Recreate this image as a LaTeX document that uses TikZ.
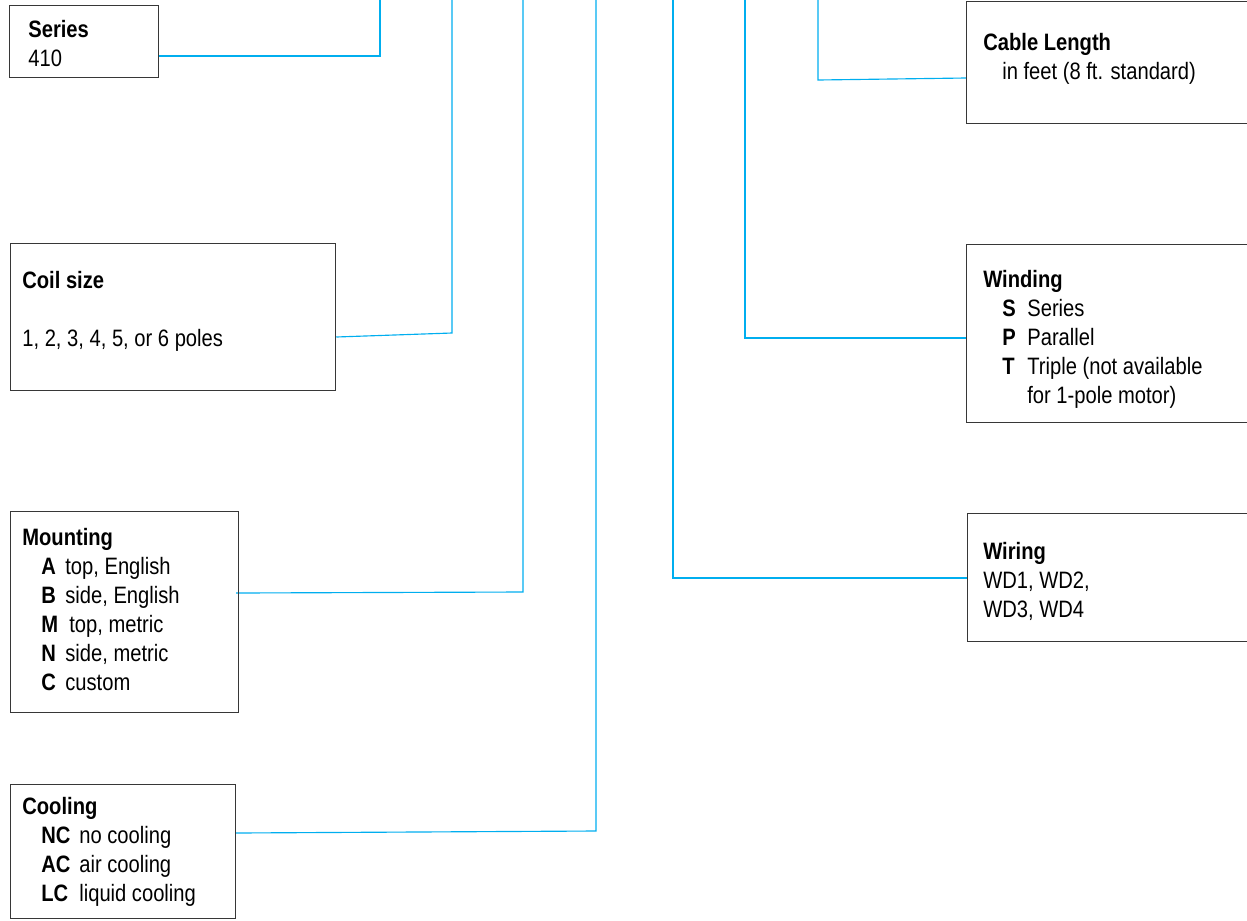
\documentclass[tikz,border=0pt]{standalone}
\usepackage{fontspec}
\setmainfont{Liberation Sans}[FakeStretch=0.85]
\usepackage{xcolor}
\usetikzlibrary{calc,backgrounds}
\pgfdeclarelayer{edgelayer}
\pgfdeclarelayer{nodelayer}
\pgfsetlayers{background,edgelayer,nodelayer,main}
\definecolor{leadblue}{RGB}{0,174,239}
\definecolor{boxgray}{RGB}{55,55,55}
\tikzstyle{none}=[inner sep=0mm]
\tikzstyle{codebox}=[draw=boxgray,line width=0.75pt,shape=rectangle,anchor=north west,inner sep=0mm]
% anchored at the baseline of the last line
\tikzstyle{codetext}=[inner sep=0mm,anchor=base west,align=left,font=\fontsize{13.5}{16.5}\selectfont]
\tikzstyle{lead}=[draw=leadblue,line width=0.65pt]
\newcommand{\opt}[3]{\hspace*{#1}\makebox[#2][l]{\textbf{#3}}}

\begin{document}
\begin{tikzpicture}[x=0.02cm,y=-0.02cm]
	\useasboundingbox (0,0) rectangle (1247,920);
	\begin{pgfonlayer}{nodelayer}
		% left column
		\node [style=codebox,minimum width=2.98cm,minimum height=1.44cm] (series) at (9,5) {};
		\node [style=codetext] (seriestx) at (28,66) {\textbf{Series}\\410};
		\node [style=codebox,minimum width=6.5cm,minimum height=2.94cm] (coil) at (10,243) {};
		\node [style=codetext] (coiltx) at (22,346) {\textbf{Coil size}\\[16.5pt]1, 2, 3, 4, 5, or 6 poles};
		\node [style=codebox,minimum width=4.56cm,minimum height=4.02cm] (mount) at (10,511) {};
		\node [style=codetext] (mounttx) at (22,690) {\textbf{Mounting}\\
			\opt{0.38cm}{0.48cm}{A}top, English\\
			\opt{0.38cm}{0.48cm}{B}side, English\\
			\opt{0.38cm}{0.48cm}{M}\hspace{0.08cm}top, metric\\
			\opt{0.38cm}{0.48cm}{N}side, metric\\
			\opt{0.38cm}{0.48cm}{C}custom};
		\node [style=codebox,minimum width=4.5cm,minimum height=2.68cm] (cool) at (10,784) {};
		\node [style=codetext] (cooltx) at (22,901) {\textbf{Cooling}\\
			\opt{0.38cm}{0.76cm}{NC}no cooling\\
			\opt{0.38cm}{0.76cm}{AC}air cooling\\
			\opt{0.38cm}{0.76cm}{LC}liquid cooling};
		% right column
		\node [style=codebox,minimum width=5.78cm,minimum height=2.44cm] (cable) at (966,1) {};
		\node [style=codetext] (cabletx) at (983,79) {\textbf{Cable Length}\\\hspace*{0.38cm}in feet (8 ft. standard)};
		\node [style=codebox,minimum width=5.78cm,minimum height=3.56cm] (wind) at (966,244) {};
		\node [style=codetext] (windtx) at (983,403) {\textbf{Winding}\\
			\opt{0.38cm}{0.5cm}{S}Series\\
			\opt{0.38cm}{0.5cm}{P}Parallel\\
			\opt{0.38cm}{0.5cm}{T}Triple (not available\\
			\hspace*{0.88cm}for 1-pole motor)};
		\node [style=codebox,minimum width=5.76cm,minimum height=2.56cm] (wiring) at (967,513) {};
		\node [style=codetext] (wiringtx) at (983,617) {\textbf{Wiring}\\WD1, WD2,\\WD3, WD4};
	\end{pgfonlayer}
	\begin{pgfonlayer}{edgelayer}
		\coordinate (series-s) at (series.east |- 0,56);
		\coordinate (series-k) at (380,56);
		\coordinate (coil-s) at (coil.east |- 0,337);
		\coordinate (coil-k) at (452,333);
		\coordinate (mount-s) at (236,593);
		\coordinate (mount-k) at (523,592);
		\coordinate (cool-s) at (236,833);
		\coordinate (cool-k) at (596,831);
		\coordinate (cable-s) at (cable.west |- 0,78);
		\coordinate (cable-k) at (818,80);
		\coordinate (wind-s) at (wind.west |- 0,338);
		\coordinate (wind-k) at (745,338);
		\coordinate (wiring-s) at (wiring.west |- 0,578);
		\coordinate (wiring-k) at (673,578);
		\draw[style=lead] (series-s) -- (series-k) -- (series-k |- 0,0);
		\draw[style=lead] (coil-s) -- (coil-k) -- (coil-k |- 0,0);
		\draw[style=lead] (mount-s) -- (mount-k) -- (mount-k |- 0,0);
		\draw[style=lead] (cool-s) -- (cool-k) -- (cool-k |- 0,0);
		\draw[style=lead] (cable-s) -- (cable-k) -- (cable-k |- 0,0);
		\draw[style=lead] (wind-s) -- (wind-k) -- (wind-k |- 0,0);
		\draw[style=lead] (wiring-s) -- (wiring-k) -- (wiring-k |- 0,0);
	\end{pgfonlayer}
\end{tikzpicture}
\end{document}
